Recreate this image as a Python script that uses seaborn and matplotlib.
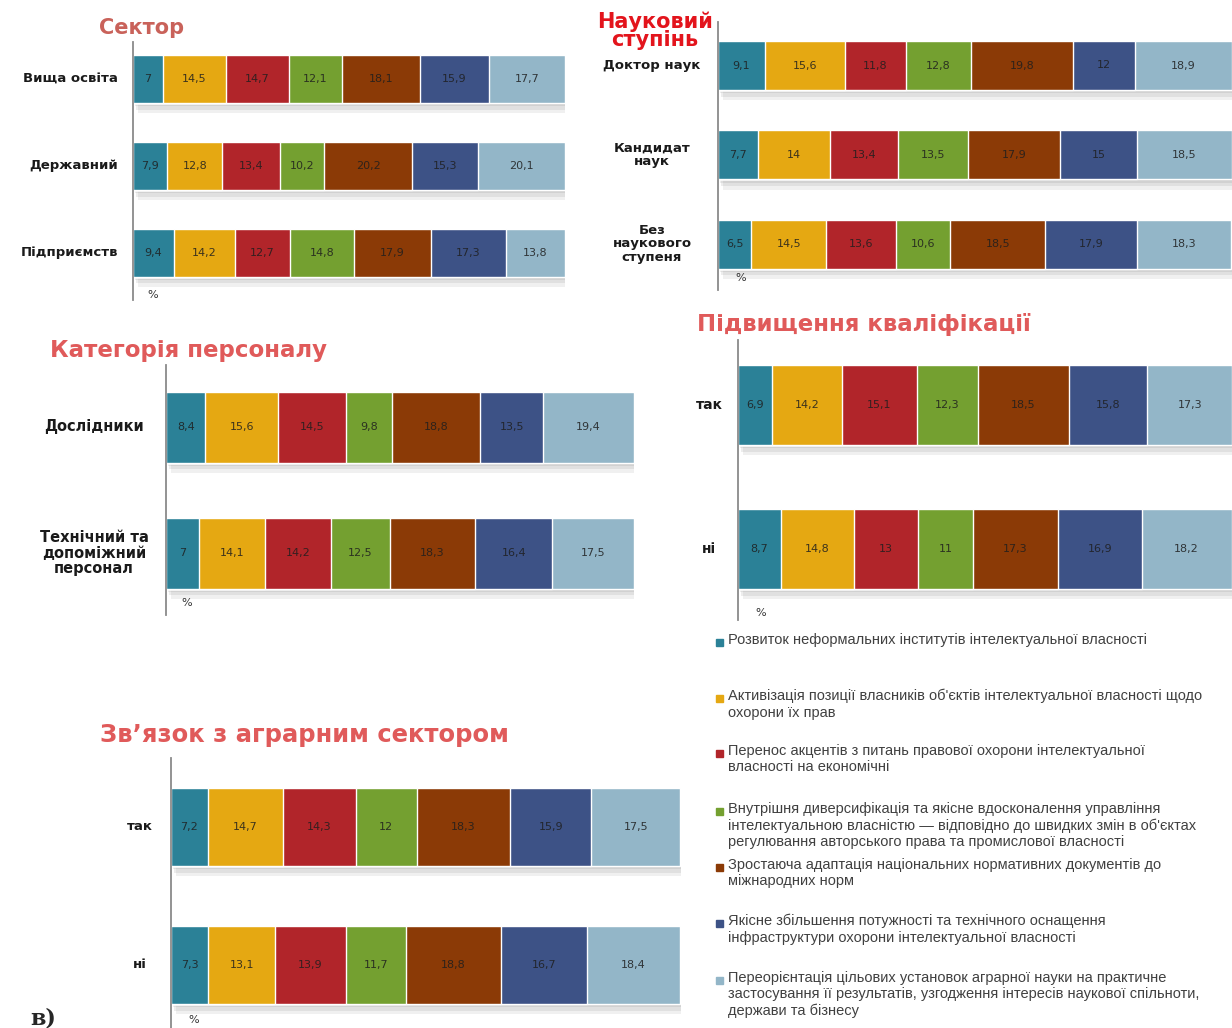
import numpy as np
import pandas as pd
import matplotlib
matplotlib.use('Agg')
import matplotlib.pyplot as plt
import matplotlib.patheffects as pe
import matplotlib.transforms as mtransforms
from matplotlib.patches import Rectangle
import seaborn as sns

sns.set_theme(style='white')
plt.rcParams['font.family'] = ['DejaVu Sans']

# кольори напрямів (однакові для всіх панелей)
colors = ['#2b8197', '#e5a812', '#b1252a', '#74a030', '#8b3a06', '#3d5286', '#93b6c8']

legend_labels = [
    'Розвиток неформальних інститутів інтелектуальної власності',
    'Активізація позиції власників об\'єктів інтелектуальної власності щодо\nохорони їх прав',
    'Перенос акцентів з питань правової охорони інтелектуальної\nвласності на економічні',
    'Внутрішня диверсифікація та якісне вдосконалення управління\nінтелектуальною власністю — відповідно до швидких змін в об\'єктах\nрегулювання авторського права та промислової власності',
    'Зростаюча адаптація національних нормативних документів до\nміжнародних норм',
    'Якісне збільшення потужності та технічного оснащення\nінфраструктури охорони інтелектуальної власності',
    'Переорієнтація цільових установок аграрної науки на практичне\nзастосування її результатів, узгодження інтересів наукової спільноти,\nдержави та бізнесу',
]

# дані по панелях
sector_cats = ['Вища освіта', 'Державний', 'Підприємств']
sector_vals = [
    [7, 14.5, 14.7, 12.1, 18.1, 15.9, 17.7],
    [7.9, 12.8, 13.4, 10.2, 20.2, 15.3, 20.1],
    [9.4, 14.2, 12.7, 14.8, 17.9, 17.3, 13.8],
]

degree_cats = ['Доктор наук', 'Кандидат\nнаук', 'Без\nнаукового\nступеня']
degree_vals = [
    [9.1, 15.6, 11.8, 12.8, 19.8, 12, 18.9],
    [7.7, 14, 13.4, 13.5, 17.9, 15, 18.5],
    [6.5, 14.5, 13.6, 10.6, 18.5, 17.9, 18.3],
]

staff_cats = ['Дослідники', 'Технічний та\nдопоміжний\nперсонал']
staff_vals = [
    [8.4, 15.6, 14.5, 9.8, 18.8, 13.5, 19.4],
    [7, 14.1, 14.2, 12.5, 18.3, 16.4, 17.5],
]

qual_cats = ['так', 'ні']
qual_vals = [
    [6.9, 14.2, 15.1, 12.3, 18.5, 15.8, 17.3],
    [8.7, 14.8, 13, 11, 17.3, 16.9, 18.2],
]

agro_cats = ['так', 'ні']
agro_vals = [
    [7.2, 14.7, 14.3, 12, 18.3, 15.9, 17.5],
    [7.3, 13.1, 13.9, 11.7, 18.8, 16.7, 18.4],
]

W, H = 1232, 1028
fig = plt.figure(figsize=(W / 100, H / 100), dpi=100)

shadow = [pe.SimplePatchShadow(offset=(1.5, -2.5), shadow_rgbFace='#707070', alpha=0.12),
          pe.SimplePatchShadow(offset=(2.5, -5), shadow_rgbFace='#707070', alpha=0.12),
          pe.SimplePatchShadow(offset=(3.5, -7.5), shadow_rgbFace='#707070', alpha=0.1),
          pe.Normal()]


def stacked_panel(cats, vals, left, right, top, bottom, rows, bar_h, pct_y,
                  lab_x, lab_ha, lab_size):
    # положення осей задаємо в пікселях
    ax = fig.add_axes([left / W, 1 - bottom / H, (right - left) / W, (bottom - top) / H])
    step = (rows[-1] - rows[0]) / (len(rows) - 1)
    ylim_top = -(rows[0] - top) / step
    ylim_bot = len(rows) - 1 + (bottom - rows[-1]) / step
    width = bar_h / step

    df = pd.DataFrame(vals, columns=[f's{i}' for i in range(7)])
    df['cat'] = cats
    cum = df[[f's{i}' for i in range(7)]].cumsum(axis=1)
    # малюємо накопичені суми від найбільшої до найменшої
    for i in range(6, -1, -1):
        d = pd.DataFrame({'cat': cats, 'x': cum[f's{i}']})
        sns.barplot(data=d, x='x', y='cat', color=colors[i], width=width,
                    orient='h', ax=ax, edgecolor='white', linewidth=1.0,
                    saturation=1)
    # тінь під смугами
    for p in ax.patches[:len(cats)]:
        p.set_path_effects(shadow)
    # підписи значень
    for r in range(len(cats)):
        for i in range(7):
            v = vals[r][i]
            xc = cum.iloc[r, i] - v / 2
            ax.text(xc, r, f'{v:g}'.replace('.', ','), ha='center', va='center',
                    fontsize=8, color='#1e1e1e', alpha=0.85)
    ax.set_xlim(0, 100)
    ax.set_ylim(ylim_bot, ylim_top)
    ax.set_xlabel('')
    ax.set_ylabel('')
    ax.set_xticks([])
    ax.set_yticks([])
    # підписи категорій
    tr = mtransforms.blended_transform_factory(fig.transFigure, ax.transData)
    for r, c in enumerate(cats):
        ax.text(lab_x / W, r, c, transform=tr, ha=lab_ha, va='center', multialignment='center',
                fontsize=lab_size, fontweight='bold', color='#1a1a1a', linespacing=1.0)
    for s in ['top', 'right', 'bottom']:
        ax.spines[s].set_visible(False)
    ax.spines['left'].set_color('#8a8a8a')
    ax.spines['left'].set_linewidth(1.3)
    ax.patch.set_alpha(0)
    ax.text(0.045, 1 - (pct_y - top) / (bottom - top), '%', transform=ax.transAxes,
            fontsize=8, color='#333333', ha='center', va='center')
    return ax


ax1 = stacked_panel(sector_cats, sector_vals, 133, 565, 42, 300, [79, 166, 252.5], 48, 295,
                    118, 'right', 9.5)
ax2 = stacked_panel(degree_cats, degree_vals, 718, 1232, 22, 290, [65.5, 155, 244], 49, 278,
                    652, 'center', 9.5)
ax3 = stacked_panel(staff_cats, staff_vals, 166, 634, 365, 615, [427, 553], 71, 603,
                    94, 'center', 10.5)
ax4 = stacked_panel(qual_cats, qual_vals, 738, 1232, 340, 620, [405, 549], 80, 613,
                    709, 'center', 10)
ax5 = stacked_panel(agro_cats, agro_vals, 171, 681, 758, 1028, [827, 965], 78, 1020,
                    140, 'center', 9.5)

# заголовки панелей
fig.text(99 / W, 1 - 28 / H, 'Сектор', color='#c9625a', fontsize=15, fontweight='bold', va='center')
fig.text(655 / W, 1 - 31 / H, 'Науковий\nступінь', color='#e3141c', fontsize=15, fontweight='bold',
         va='center', ha='center', linespacing=0.9)
fig.text(50 / W, 1 - 351 / H, 'Категорія персоналу', color='#e05a5a', fontsize=16.5, fontweight='bold',
         va='center')
fig.text(697 / W, 1 - 325 / H, 'Підвищення кваліфікації', color='#e05a5a', fontsize=16.5, fontweight='bold',
         va='center')
fig.text(100 / W, 1 - 735 / H, 'Зв\u2019язок з аграрним сектором', color='#e05a5a', fontsize=17.5,
         fontweight='bold', va='center')

fig.text(30 / W, 1 - 1008 / H, 'в)', fontsize=16, fontweight='bold', family='DejaVu Serif', va='top')

# легенда вручну: рівні інтервали, текст вирівняний по першому рядку
lax = fig.add_axes([0, 0, 1, 1])
lax.set_xlim(0, W)
lax.set_ylim(H, 0)
lax.axis('off')
entry_y = [642, 698, 753, 811, 867, 923, 980]
for i, lbl in enumerate(legend_labels):
    lax.add_patch(Rectangle((716, entry_y[i] - 3.5), 7, 7, color=colors[i]))
    lax.text(728, entry_y[i] - 9, lbl, fontsize=10.5, color='#404040', va='top', ha='left',
             linespacing=1.2, family=['Liberation Sans Narrow', 'Liberation Sans', 'DejaVu Sans'])

fig.savefig('out.png', dpi=100)
